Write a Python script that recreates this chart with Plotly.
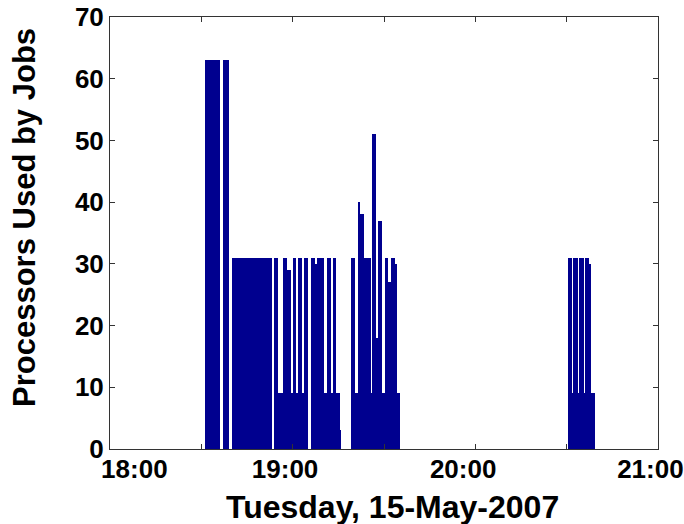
import datetime as dt
import plotly.graph_objects as go

# Job intervals: minutes after 18:00 on 15-May-2007, and processors in use
start_min = [31.34, 37.12, 40.07, 53.86, 55.17, 56.81, 58.25, 59.57, 60.16, 61.21,
             61.73, 63.05, 63.70, 65.90, 67.21, 68.03, 70.27, 71.38, 72.47, 73.22,
             74.34, 75.42, 79.19, 80.57, 81.42, 82.21, 83.39, 85.59, 86.02, 87.46,
             87.99, 89.30, 90.19, 91.27, 92.16, 93.47, 94.22, 150.35, 151.66, 152.22,
             153.63, 154.19, 155.60, 156.16, 157.47, 158.03]
end_min = [36.27, 39.09, 53.20, 55.17, 56.81, 58.25, 59.57, 60.16, 61.21, 61.73,
           63.05, 63.70, 65.01, 67.21, 68.03, 70.27, 71.38, 72.47, 73.22, 74.34,
           75.42, 75.98, 80.57, 81.42, 82.21, 83.39, 85.59, 86.02, 87.46, 87.99,
           89.30, 90.19, 91.27, 92.16, 93.47, 94.22, 95.34, 151.66, 152.22, 153.63,
           154.19, 155.60, 156.16, 157.47, 158.03, 159.44]
procs = [63, 63, 31, 31, 9, 31, 29, 9, 31, 9,
         31, 9, 31, 31, 30, 31, 9, 31, 9, 31,
         9, 3, 31, 9, 40, 38, 31, 9, 51, 18,
         37, 9, 31, 27, 31, 30, 9, 31, 9, 31,
         9, 31, 9, 31, 30, 9]

tick_labels = ["18:00", "19:00", "20:00", "21:00"]
# where the original figure printed each hour label (minutes after 18:00)
label_pos_min = [8.0, 57.5, 116.0, 177.5]

day0 = dt.datetime(2007, 5, 15, 18, 0, 0)
x_start = [day0 + dt.timedelta(minutes=m) for m in start_min]
widths_ms = [(e - s) * 60000 for s, e in zip(start_min, end_min)]
minor_ticks = [day0 + dt.timedelta(minutes=30 * i) for i in range(7)]
label_vals = [day0 + dt.timedelta(minutes=m) for m in label_pos_min]
x_range = [day0, day0 + dt.timedelta(minutes=180)]

fig = go.Figure()
fig.add_trace(go.Bar(
    x=x_start, y=procs, width=widths_ms, offset=0,
    marker=dict(color="#00008F", line=dict(width=0)),
    showlegend=False, hoverinfo="x+y",
))
# empty trace so the label axis is drawn
fig.add_trace(go.Scatter(x=[], y=[], xaxis="x2", showlegend=False))

font = dict(family="Liberation Sans, Arial, sans-serif", color="black", weight="bold")
axcol = "#333333"

fig.update_layout(
    width=684, height=524,
    margin=dict(l=110, r=26, t=17, b=75, autoexpand=False),
    paper_bgcolor="white", plot_bgcolor="white",
    bargap=0,
    font=font,
    xaxis=dict(
        type="date", range=x_range,
        tickmode="array", tickvals=minor_ticks, showticklabels=False,
        ticks="inside", ticklen=5, tickcolor=axcol,
        showline=True, linecolor=axcol, linewidth=1, mirror="ticks",
        showgrid=False, zeroline=False, automargin=False,
    ),
    xaxis2=dict(
        type="date", range=x_range, overlaying="x", side="bottom", anchor="y",
        tickmode="array", tickvals=label_vals, ticktext=tick_labels,
        ticks="", showline=False, showgrid=False, zeroline=False,
        ticklabeloverflow="allow", ticklabelstandoff=2, automargin=False,
        tickfont=dict(size=26, **font),
    ),
    yaxis=dict(
        range=[0, 70], tickmode="linear", tick0=0, dtick=10,
        ticks="inside", ticklen=5, tickcolor=axcol,
        showline=True, linecolor=axcol, linewidth=1, mirror="ticks",
        showgrid=False, zeroline=False, automargin=False,
        tickfont=dict(size=26, **font),
    ),
    annotations=[
        dict(
            text="Processors Used by Jobs", textangle=-90,
            xref="paper", yref="paper", x=-0.157, y=0.537,
            xanchor="center", yanchor="middle", showarrow=False,
            font=dict(size=31, **font),
        ),
        dict(
            text="Tuesday, 15-May-2007",
            xref="paper", yref="paper", x=0.515, y=-0.134,
            xanchor="center", yanchor="middle", showarrow=False,
            font=dict(size=32, **font),
        ),
    ],
)

fig.write_html("out.html")
